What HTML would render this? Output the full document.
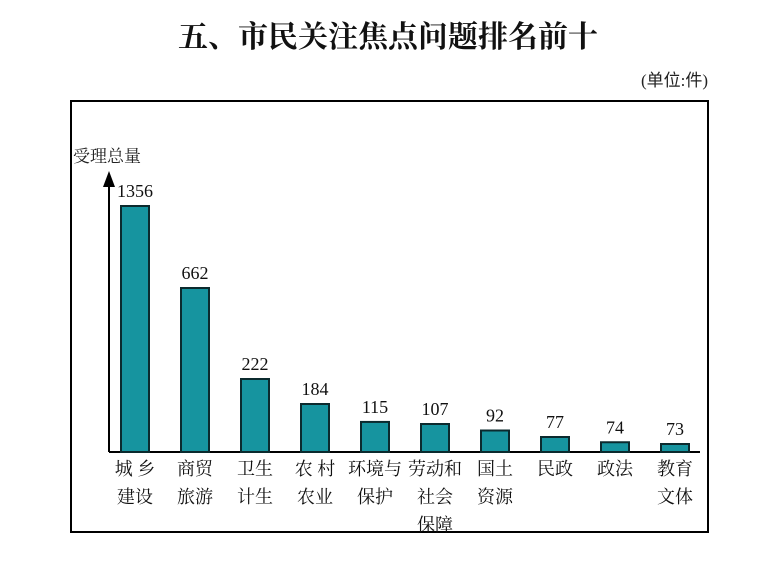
<!DOCTYPE html>
<html><head><meta charset="utf-8">
<style>
html,body{margin:0;padding:0;background:#fff;}
body{width:776px;height:559px;overflow:hidden;}
text{font-family:"Liberation Serif","Noto Serif CJK SC",serif;}
</style></head>
<body>
<svg id="chart" width="776" height="559" viewBox="0 0 776 559" xmlns="http://www.w3.org/2000/svg">
<text x="388" y="47" text-anchor="middle" font-size="30" font-weight="bold" fill="#111" style="font-family:'Noto Serif CJK SC',serif">五、市民关注焦点问题排名前十</text>
<text x="708" y="86" text-anchor="end" font-size="17" fill="#222" style="font-family:'Liberation Serif','Noto Sans CJK SC',serif">(单位:件)</text>
<rect x="71" y="101" width="637" height="431" fill="none" stroke="#000" stroke-width="2"/>
<text x="73" y="162" font-size="17" fill="#222" style="font-family:'Noto Serif CJK SC',serif">受理总量</text>
<line x1="109" y1="185" x2="109" y2="452" stroke="#000" stroke-width="2"/>
<polygon points="109,171 103,187 115,187" fill="#000"/>
<line x1="109" y1="452" x2="700" y2="452" stroke="#000" stroke-width="2"/>
<g id="bars"></g>
</svg>
<script>
const categories = [["城 乡","建设"],["商贸","旅游"],["卫生","计生"],["农 村","农业"],["环境与","保护"],["劳动和","社会","保障"],["国土","资源"],["民政"],["政法"],["教育","文体"]];
const values = [1356,662,222,184,115,107,92,77,74,73];
// non-linear display scale (value -> pixel height)
const scaleValues = [0,73,77,107,184,222,662,1356];
const scaleHeights = [0,8,15,28,48,73,164,246];
const baseY = 452, x0 = 135, step = 60, barW = 28;
function yScale(v){
  let h;
  const n = scaleValues.length;
  if (v >= scaleValues[n-1]) h = scaleHeights[n-1] * v / scaleValues[n-1];
  else {
    for (let i = 1; i < n; i++) {
      if (v <= scaleValues[i]) {
        const t = (v - scaleValues[i-1]) / (scaleValues[i] - scaleValues[i-1]);
        h = scaleHeights[i-1] + t * (scaleHeights[i] - scaleHeights[i-1]);
        break;
      }
    }
  }
  return baseY - h;
}
function xScale(i){ return x0 + i * step; }
const NS = "http://www.w3.org/2000/svg";
const g = document.getElementById("bars");
values.forEach((v, i) => {
  const cx = xScale(i), top = yScale(v);
  const r = document.createElementNS(NS, "rect");
  
  
  r.setAttribute("x", cx - barW/2); r.setAttribute("y", top);
  r.setAttribute("width", barW); r.setAttribute("height", baseY - top);
  r.setAttribute("fill", "#16949f"); r.setAttribute("stroke", "#0b2a2e"); r.setAttribute("stroke-width", "2");
  g.appendChild(r);
  const t = document.createElementNS(NS, "text");
  
  
  t.setAttribute("x", cx); t.setAttribute("y", top - 9);
  t.setAttribute("text-anchor", "middle"); t.setAttribute("font-size", "18"); t.setAttribute("fill", "#111");
  t.textContent = v;
  g.appendChild(t);
  categories[i].forEach((line, j) => {
    const c = document.createElementNS(NS, "text");
    
    
    c.setAttribute("x", cx); c.setAttribute("y", 475 + j * 28);
    c.setAttribute("text-anchor", "middle"); c.setAttribute("font-size", "18"); c.setAttribute("fill", "#111");
    c.setAttribute("style", "font-family:'Noto Serif CJK SC',serif");
    c.textContent = line;
    g.appendChild(c);
  });
});
</script>
</body></html>
